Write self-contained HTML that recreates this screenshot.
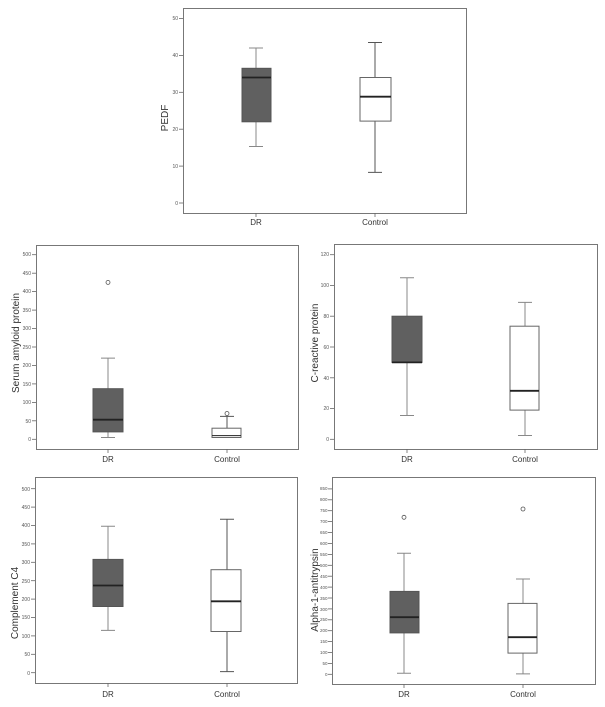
<!DOCTYPE html>
<html><head><meta charset="utf-8"><style>
html,body{margin:0;padding:0;background:#fff;}
svg{display:block;font-family:"Liberation Sans",sans-serif;}
.f{fill:none;stroke:#777;stroke-width:1}
.t{stroke:#666;stroke-width:0.8}
.tl{font-size:5px;fill:#555;text-anchor:end}
.c{font-size:8px;fill:#333;text-anchor:middle}
.yt{font-size:10px;fill:#333;text-anchor:middle}
.w{stroke:#888;stroke-width:1;fill:none}
.wc{stroke:#555;stroke-width:1;fill:none}
.bd{fill:#606060;stroke:#555;stroke-width:1}
.bw{fill:#fff;stroke:#666;stroke-width:1}
.m{stroke:#222;stroke-width:1.8}
.o{fill:none;stroke:#555;stroke-width:0.8}
</style></head><body>
<svg width="605" height="707" viewBox="0 0 605 707">
<!-- Panel 1 PEDF -->
<rect class="f" x="183.5" y="8.5" width="283" height="205"/>
<g class="t"><line x1="179" x2="183" y1="203" y2="203"/><line x1="179" x2="183" y1="166.1" y2="166.1"/><line x1="179" x2="183" y1="129.2" y2="129.2"/><line x1="179" x2="183" y1="92.3" y2="92.3"/><line x1="179" x2="183" y1="55.4" y2="55.4"/><line x1="179" x2="183" y1="18.5" y2="18.5"/>
<line x1="256" x2="256" y1="213" y2="217"/><line x1="375" x2="375" y1="213" y2="217"/></g>
<g class="tl"><text x="178" y="205">0</text><text x="178" y="168">10</text><text x="178" y="131">20</text><text x="178" y="94">30</text><text x="178" y="57">40</text><text x="178" y="20">50</text></g>
<text class="c" x="256" y="225">DR</text><text class="c" x="375" y="225">Control</text>
<text class="yt" transform="translate(168,118) rotate(-90)">PEDF</text>
<path class="w" d="M256 48V68.3M256 121.8V146.5M249 48H263M249 146.5H263"/>
<rect class="bd" x="242" y="68.3" width="29" height="53.5"/><line class="m" x1="242" x2="271" y1="77.5" y2="77.5"/>
<path class="wc" d="M375 42.5V77.5M375 121.1V172.4M368 42.5H382M368 172.4H382"/>
<rect class="bw" x="360" y="77.5" width="31" height="43.6"/><line class="m" x1="360" x2="391" y1="96.7" y2="96.7"/>

<!-- Panel 2 Serum amyloid -->
<rect class="f" x="36.5" y="245.5" width="262" height="204"/>
<g class="t"><line x1="32" x2="36" y1="439.3" y2="439.3"/><line x1="32" x2="36" y1="420.8" y2="420.8"/><line x1="32" x2="36" y1="402.4" y2="402.4"/><line x1="32" x2="36" y1="383.9" y2="383.9"/><line x1="32" x2="36" y1="365.5" y2="365.5"/><line x1="32" x2="36" y1="347" y2="347"/><line x1="32" x2="36" y1="328.5" y2="328.5"/><line x1="32" x2="36" y1="310.1" y2="310.1"/><line x1="32" x2="36" y1="291.6" y2="291.6"/><line x1="32" x2="36" y1="273.2" y2="273.2"/><line x1="32" x2="36" y1="254.7" y2="254.7"/>
<line x1="108" x2="108" y1="449" y2="453"/><line x1="227" x2="227" y1="449" y2="453"/></g>
<g class="tl"><text x="31" y="441">0</text><text x="31" y="423">50</text><text x="31" y="404">100</text><text x="31" y="386">150</text><text x="31" y="367">200</text><text x="31" y="349">250</text><text x="31" y="330">300</text><text x="31" y="312">350</text><text x="31" y="293">400</text><text x="31" y="275">450</text><text x="31" y="256">500</text></g>
<text class="c" x="108" y="462">DR</text><text class="c" x="227" y="462">Control</text>
<text class="yt" transform="translate(19,343) rotate(-90)">Serum amyloid protein</text>
<circle class="o" cx="108" cy="282.4" r="2"/>
<path class="w" d="M108 358.1V388.7M108 431.9V437.5M101 358.1H115M101 437.5H115"/>
<rect class="bd" x="93" y="388.7" width="30" height="43.2"/><line class="m" x1="93" x2="123" y1="419.7" y2="419.7"/>
<circle class="o" cx="227" cy="413.5" r="2"/>
<path class="wc" d="M227 416.4V428.2M220 416.4H234"/>
<rect class="bw" x="212" y="428.2" width="29" height="9.3"/><line class="m" x1="212" x2="241" y1="435.6" y2="435.6" style="stroke-width:1"/>

<!-- Panel 3 CRP -->
<rect class="f" x="334.5" y="244.5" width="263" height="205"/>
<g class="t"><line x1="330" x2="334" y1="439.3" y2="439.3"/><line x1="330" x2="334" y1="408.5" y2="408.5"/><line x1="330" x2="334" y1="377.8" y2="377.8"/><line x1="330" x2="334" y1="347" y2="347"/><line x1="330" x2="334" y1="316.2" y2="316.2"/><line x1="330" x2="334" y1="285.5" y2="285.5"/><line x1="330" x2="334" y1="254.7" y2="254.7"/>
<line x1="407" x2="407" y1="449" y2="453"/><line x1="525" x2="525" y1="449" y2="453"/></g>
<g class="tl"><text x="329" y="441">0</text><text x="329" y="410">20</text><text x="329" y="380">40</text><text x="329" y="349">60</text><text x="329" y="318">80</text><text x="329" y="287">100</text><text x="329" y="256">120</text></g>
<text class="c" x="407" y="462">DR</text><text class="c" x="525" y="462">Control</text>
<text class="yt" transform="translate(318,343) rotate(-90)">C-reactive protein</text>
<path class="w" d="M407 277.8V316.2M407 362.4V415.5M400 277.8H414M400 415.5H414"/>
<rect class="bd" x="392" y="316.2" width="30" height="46.2"/><line class="m" x1="392" x2="422" y1="362.4" y2="362.4"/>
<path class="w" d="M525 302.4V326.2M525 410.1V435.5M518 302.4H532M518 435.5H532"/>
<rect class="bw" x="510" y="326.2" width="29" height="83.9"/><line class="m" x1="510" x2="539" y1="390.8" y2="390.8"/>

<!-- Panel 4 Complement C4 -->
<rect class="f" x="35.5" y="477.5" width="262" height="206"/>
<g class="t"><line x1="31" x2="35" y1="672.7" y2="672.7"/><line x1="31" x2="35" y1="654.3" y2="654.3"/><line x1="31" x2="35" y1="635.9" y2="635.9"/><line x1="31" x2="35" y1="617.5" y2="617.5"/><line x1="31" x2="35" y1="599.1" y2="599.1"/><line x1="31" x2="35" y1="580.7" y2="580.7"/><line x1="31" x2="35" y1="562.3" y2="562.3"/><line x1="31" x2="35" y1="543.9" y2="543.9"/><line x1="31" x2="35" y1="525.5" y2="525.5"/><line x1="31" x2="35" y1="507.1" y2="507.1"/><line x1="31" x2="35" y1="488.7" y2="488.7"/>
<line x1="108" x2="108" y1="683" y2="687"/><line x1="227" x2="227" y1="683" y2="687"/></g>
<g class="tl"><text x="30" y="675">0</text><text x="30" y="656">50</text><text x="30" y="638">100</text><text x="30" y="619">150</text><text x="30" y="601">200</text><text x="30" y="583">250</text><text x="30" y="564">300</text><text x="30" y="546">350</text><text x="30" y="527">400</text><text x="30" y="509">450</text><text x="30" y="491">500</text></g>
<text class="c" x="108" y="697">DR</text><text class="c" x="227" y="697">Control</text>
<text class="yt" transform="translate(18,603) rotate(-90)">Complement C4</text>
<path class="w" d="M108 526.2V559.4M108 606.5V630.4M101 526.2H115M101 630.4H115"/>
<rect class="bd" x="93" y="559.4" width="30" height="47.1"/><line class="m" x1="93" x2="123" y1="585.5" y2="585.5"/>
<path class="wc" d="M227 519.2V569.7M227 631.5V671.6M220 519.2H234M220 671.6H234"/>
<rect class="bw" x="211" y="569.7" width="30" height="61.8"/><line class="m" x1="211" x2="241" y1="601.3" y2="601.3"/>

<!-- Panel 5 Alpha-1-antitrypsin -->
<rect class="f" x="332.5" y="477.5" width="263" height="207"/>
<g class="t"><line x1="328" x2="332" y1="674.3" y2="674.3"/><line x1="328" x2="332" y1="663.4" y2="663.4"/><line x1="328" x2="332" y1="652.5" y2="652.5"/><line x1="328" x2="332" y1="641.6" y2="641.6"/><line x1="328" x2="332" y1="630.7" y2="630.7"/><line x1="328" x2="332" y1="619.8" y2="619.8"/><line x1="328" x2="332" y1="608.9" y2="608.9"/><line x1="328" x2="332" y1="598" y2="598"/><line x1="328" x2="332" y1="587.1" y2="587.1"/><line x1="328" x2="332" y1="576.2" y2="576.2"/><line x1="328" x2="332" y1="565.3" y2="565.3"/><line x1="328" x2="332" y1="554.4" y2="554.4"/><line x1="328" x2="332" y1="543.5" y2="543.5"/><line x1="328" x2="332" y1="532.6" y2="532.6"/><line x1="328" x2="332" y1="521.6" y2="521.6"/><line x1="328" x2="332" y1="510.7" y2="510.7"/><line x1="328" x2="332" y1="499.8" y2="499.8"/><line x1="328" x2="332" y1="488.9" y2="488.9"/>
<line x1="404" x2="404" y1="684" y2="688"/><line x1="523" x2="523" y1="684" y2="688"/></g>
<g class="tl" style="font-size:4.5px"><text x="327.5" y="676">0</text><text x="327.5" y="665">50</text><text x="327.5" y="654">100</text><text x="327.5" y="643">150</text><text x="327.5" y="632">200</text><text x="327.5" y="621">250</text><text x="327.5" y="611">300</text><text x="327.5" y="600">350</text><text x="327.5" y="589">400</text><text x="327.5" y="578">450</text><text x="327.5" y="567">500</text><text x="327.5" y="556">550</text><text x="327.5" y="545">600</text><text x="327.5" y="534">650</text><text x="327.5" y="523">700</text><text x="327.5" y="512">750</text><text x="327.5" y="501">800</text><text x="327.5" y="490">850</text></g>
<text class="c" x="404" y="697">DR</text><text class="c" x="523" y="697">Control</text>
<text class="yt" transform="translate(318,590) rotate(-90)">Alpha-1-antitrypsin</text>
<circle class="o" cx="404" cy="517.3" r="2"/>
<path class="w" d="M404 553.3V591.4M404 632.9V673.2M397 553.3H411M397 673.2H411"/>
<rect class="bd" x="390" y="591.4" width="29" height="41.5"/><line class="m" x1="390" x2="419" y1="617.2" y2="617.2"/>
<circle class="o" cx="523" cy="509" r="2"/>
<path class="w" d="M523 579V603.4M523 653.1V673.9M516 579H530M516 673.9H530"/>
<rect class="bw" x="508" y="603.4" width="29" height="49.7"/><line class="m" x1="508" x2="537" y1="637.2" y2="637.2"/>
</svg>
</body></html>
